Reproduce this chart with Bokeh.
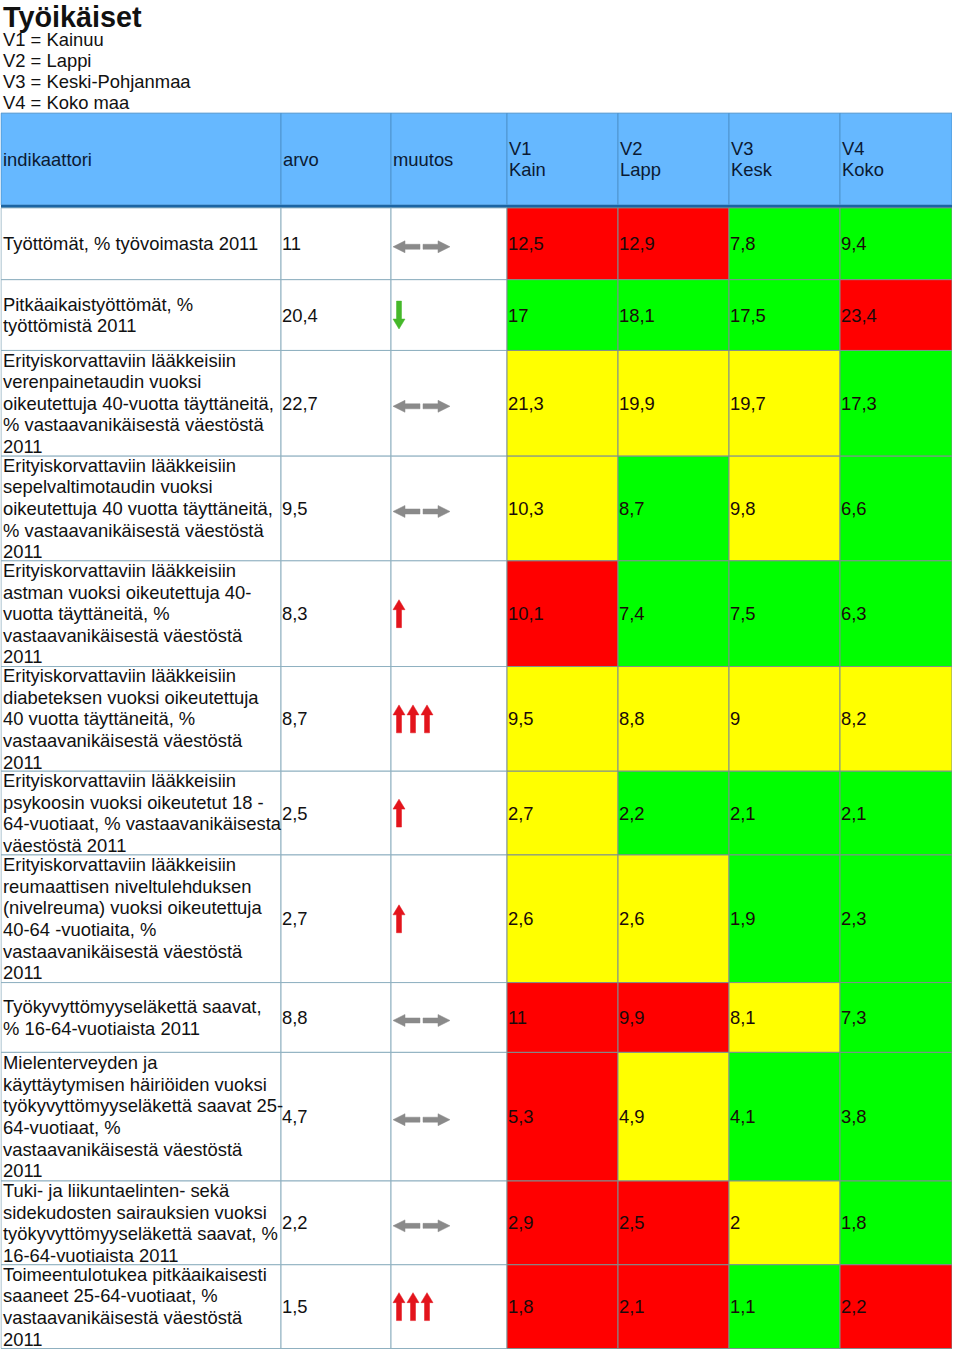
from bokeh.plotting import figure
from bokeh.models import Range1d, ColumnDataSource
from bokeh.core.properties import value
from bokeh.embed import file_html
from bokeh.resources import INLINE

# ---------------- data ----------------
title = "Työikäiset"
region_legend = ["V1 = Kainuu", "V2 = Lappi", "V3 = Keski-Pohjanmaa", "V4 = Koko maa"]
headers = ["indikaattori", "arvo", "muutos", "V1\nKain", "V2\nLapp", "V3\nKesk", "V4\nKoko"]

indicators = [
    "Työttömät, % työvoimasta 2011",
    "Pitkäaikaistyöttömät, %\ntyöttömistä 2011",
    "Erityiskorvattaviin lääkkeisiin\nverenpainetaudin vuoksi\noikeutettuja 40-vuotta täyttäneitä,\n% vastaavanikäisestä väestöstä\n2011",
    "Erityiskorvattaviin lääkkeisiin\nsepelvaltimotaudin vuoksi\noikeutettuja 40 vuotta täyttäneitä,\n% vastaavanikäisestä väestöstä\n2011",
    "Erityiskorvattaviin lääkkeisiin\nastman vuoksi oikeutettuja 40-\nvuotta täyttäneitä, %\nvastaavanikäisestä väestöstä\n2011",
    "Erityiskorvattaviin lääkkeisiin\ndiabeteksen vuoksi oikeutettuja\n40 vuotta täyttäneitä, %\nvastaavanikäisestä väestöstä\n2011",
    "Erityiskorvattaviin lääkkeisiin\npsykoosin vuoksi oikeutetut 18 -\n64-vuotiaat, % vastaavanikäisesta\nväestöstä 2011",
    "Erityiskorvattaviin lääkkeisiin\nreumaattisen niveltulehduksen\n(nivelreuma) vuoksi oikeutettuja\n40-64 -vuotiaita, %\nvastaavanikäisestä väestöstä\n2011",
    "Työkyvyttömyyseläkettä saavat,\n% 16-64-vuotiaista 2011",
    "Mielenterveyden ja\nkäyttäytymisen häiriöiden vuoksi\ntyökyvyttömyyseläkettä saavat 25-\n64-vuotiaat, %\nvastaavanikäisestä väestöstä\n2011",
    "Tuki- ja liikuntaelinten- sekä\nsidekudosten sairauksien vuoksi\ntyökyvyttömyyseläkettä saavat, %\n16-64-vuotiaista 2011",
    "Toimeentulotukea pitkäaikaisesti\nsaaneet 25-64-vuotiaat, %\nvastaavanikäisestä väestöstä\n2011",
]
arvo = [11, 20.4, 22.7, 9.5, 8.3, 8.7, 2.5, 2.7, 8.8, 4.7, 2.2, 1.5]
muutos = ["same", "down", "same", "same", "up", "up3", "up", "up", "same", "same", "same", "up3"]

v1 = [12.5, 17, 21.3, 10.3, 10.1, 9.5, 2.7, 2.6, 11, 5.3, 2.9, 1.8]
v2 = [12.9, 18.1, 19.9, 8.7, 7.4, 8.8, 2.2, 2.6, 9.9, 4.9, 2.5, 2.1]
v3 = [7.8, 17.5, 19.7, 9.8, 7.5, 9, 2.1, 1.9, 8.1, 4.1, 2, 1.1]
v4 = [9.4, 23.4, 17.3, 6.6, 6.3, 8.2, 2.1, 2.3, 7.3, 3.8, 1.8, 2.2]

v1_class = ["R", "G", "Y", "Y", "R", "Y", "Y", "Y", "R", "R", "R", "R"]
v2_class = ["R", "G", "Y", "G", "G", "Y", "G", "Y", "R", "Y", "R", "R"]
v3_class = ["G", "G", "Y", "Y", "G", "Y", "G", "G", "Y", "G", "Y", "G"]
v4_class = ["G", "R", "G", "G", "G", "Y", "G", "G", "G", "G", "G", "R"]

# ---------------- layout / style ----------------
FONT = value("Liberation Sans")
FS = "18.4px"
LH = 1.03
col_edges = [3, 283, 393, 509, 620, 731, 842, 954]
header_top, header_bottom = 113, 205
row_edges = [208, 280, 351, 457, 562, 668, 773, 857, 985, 1055, 1184, 1268, 1352]
class_colors = {"R": "#ff0000", "G": "#00ff00", "Y": "#ffff00"}
grid_color = "#8fb0c0"


def fmt(v):
    return f"{v:g}".replace(".", ",")


p = figure(width=952, height=1349, x_range=Range1d(2.5, 954.5), y_range=Range1d(1353, 0),
           output_backend="svg", toolbar_location=None, min_border=0)
p.axis.visible = False
p.grid.visible = False
p.outline_line_color = None
p.background_fill_color = "white"

# title and legend
p.text(x=[5], y=[17], text=[title], text_font=FONT, text_font_size="28.8px",
       text_font_style="bold", text_baseline="middle", text_color="#111111")
p.text(x=[5] * len(region_legend), y=[39 + 21 * i for i in range(len(region_legend))],
       text=region_legend, text_font=FONT, text_font_size=FS,
       text_baseline="middle", text_color="#111111")

# header
ncol = len(headers)
p.quad(left=col_edges[:-1], right=col_edges[1:], top=[header_top] * ncol,
       bottom=[header_bottom] * ncol, fill_color="#66b8ff", line_color="#4f95cf", line_width=1)
p.quad(left=[col_edges[0]], right=[col_edges[-1]], top=[header_bottom], bottom=[header_bottom + 3],
       fill_color="#1a64a3", line_color=None)
hc = (header_top + header_bottom) / 2
p.text(x=[e + 2 for e in col_edges[:-1]], y=[hc] * ncol, text=headers, text_font=FONT,
       text_font_size=FS, text_baseline="middle", text_line_height=LH, text_color="#0b1a33")

# body cells
nrow = len(indicators)
tops = row_edges[:-1]
bots = row_edges[1:]
centers = [(a + b) / 2 for a, b in zip(tops, bots)]

for c in range(3):
    p.quad(left=[col_edges[c]] * nrow, right=[col_edges[c + 1]] * nrow, top=tops, bottom=bots,
           fill_color="white", line_color=grid_color, line_width=1)

region_vals = [v1, v2, v3, v4]
region_cls = [v1_class, v2_class, v3_class, v4_class]
for k in range(4):
    c = 3 + k
    src = ColumnDataSource(dict(
        left=[col_edges[c]] * nrow, right=[col_edges[c + 1]] * nrow, top=tops, bottom=bots,
        color=[class_colors[s] for s in region_cls[k]],
        x=[col_edges[c] + 1] * nrow, y=centers, label=[fmt(v) for v in region_vals[k]]))
    p.quad(left="left", right="right", top="top", bottom="bottom", fill_color="color",
           line_color="#7f8f8f", line_width=1, source=src)
    p.text(x="x", y="y", text="label", source=src, text_font=FONT, text_font_size=FS,
           text_baseline="middle", text_color="#1a0a0a")

p.text(x=[col_edges[0] + 2] * nrow, y=centers, text=indicators, text_font=FONT,
       text_font_size=FS, text_baseline="middle", text_line_height=LH, text_color="#111111")
p.text(x=[col_edges[1] + 1] * nrow, y=centers, text=[fmt(v) for v in arvo], text_font=FONT,
       text_font_size=FS, text_baseline="middle", text_color="#111111")


# trend arrows
def up_arrow(cx, cy, direction=1, w=12, h=28, head=10, shaft=5):
    top = cy - direction * h / 2
    hb = top + direction * head
    bot = cy + direction * h / 2
    xs = [cx, cx + w / 2, cx + shaft / 2, cx + shaft / 2, cx - shaft / 2, cx - shaft / 2, cx - w / 2]
    ys = [top, hb, hb, bot, bot, hb, hb]
    return xs, ys


def side_arrow(x_tip, cy, direction, length=27, head=12, hh=12, shaft=5):
    hb = x_tip + direction * head
    end = x_tip + direction * length
    xs = [x_tip, hb, hb, end, end, hb, hb]
    ys = [cy, cy - hh / 2, cy - shaft / 2, cy - shaft / 2, cy + shaft / 2, cy + shaft / 2, cy + hh / 2]
    return xs, ys


gx, gy, rx, ry, dx, dy = [], [], [], [], [], []
x0 = col_edges[2] + 2
for t, cy in zip(muutos, centers):
    if t == "same":
        a = side_arrow(x0, cy + 3, 1)
        b = side_arrow(x0 + 57, cy + 3, -1)
        gx += [a[0], b[0]]
        gy += [a[1], b[1]]
    elif t == "down":
        xs, ys = up_arrow(x0 + 6, cy, direction=-1)
        dx.append(xs)
        dy.append(ys)
    elif t in ("up", "up3"):
        n = 1 if t == "up" else 3
        for j in range(n):
            xs, ys = up_arrow(x0 + 6 + 14 * j, cy)
            rx.append(xs)
            ry.append(ys)

p.patches(xs=gx, ys=gy, fill_color="#8a8a8a", line_color="#8a8a8a", line_width=0.5)
p.patches(xs=rx, ys=ry, fill_color="#e3141c", line_color="#e3141c", line_width=0.5)
p.patches(xs=dx, ys=dy, fill_color="#45b82a", line_color="#45b82a", line_width=0.5)

open("out.html", "w").write(file_html(p, INLINE))
